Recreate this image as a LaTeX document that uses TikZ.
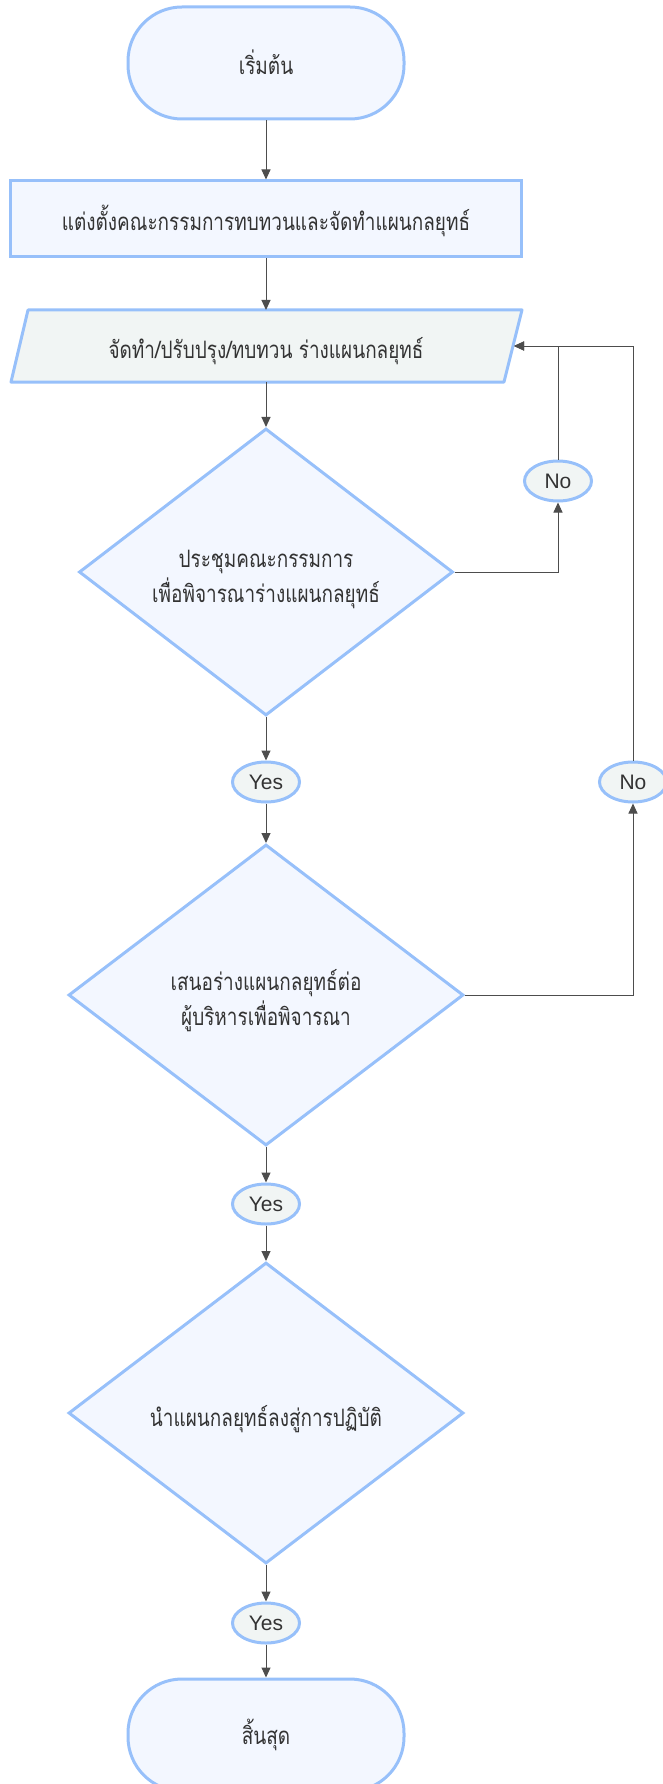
\documentclass[tikz,border=0pt]{standalone}
\usepackage{fontspec}
\setmainfont{Liberation Sans}
\newfontfamily\thaifont[Script=Thai,FakeStretch=0.79]{Loma}
\usetikzlibrary{shapes.geometric,arrows.meta}
\definecolor{bordc}{HTML}{97C0FA}
\definecolor{fillb}{HTML}{F3F7FF}
\definecolor{fillg}{HTML}{F1F5F4}
\definecolor{linec}{HTML}{4D4D4D}
\definecolor{txtc}{HTML}{333333}
\newcommand{\lowtext}[2][5pt]{\raisebox{-#1}[\height][\depth]{\begin{tabular}{@{}c@{}}#2\end{tabular}}}
\tikzset{
  base/.style={draw=bordc, line width=3pt, text=txtc, inner sep=0pt, align=center},
  thaitext/.style={font=\thaifont\fontsize{24}{35}\selectfont},
  term/.style={base, fill=fillb, rectangle, rounded corners=54pt, minimum width=276pt, minimum height=112pt, thaitext},
  procbox/.style={base, fill=fillb, rectangle, minimum width=511pt, minimum height=76pt, thaitext},
  iobox/.style={draw=bordc, line width=3pt, fill=fillg, line join=round},
  iotext/.style={text=txtc, inner sep=0pt, thaitext},
  decide/.style={base, fill=fillb, diamond, aspect=1.3, thaitext},
  lbl/.style={base, fill=fillg, ellipse, minimum width=67pt, minimum height=40pt, font=\fontsize{21}{22}\selectfont},
  conn/.style={draw=linec, line width=1pt, -{Triangle[length=10pt,width=9pt]}, fill=none},
}
\begin{document}
\begin{tikzpicture}[x=1pt,y=-1pt]
\useasboundingbox (0,0) rectangle (662,1784);
\node[term] (start) at (266,63) {\lowtext[4pt]{เริ่มต้น}};
\node[procbox] (appoint) at (266,219) {\lowtext[4pt]{แต่งตั้งคณะกรรมการทบทวนและจัดทำแผนกลยุทธ์}};
\draw[iobox] (28,310) -- (522,310) -- (504,382) -- (11,382) -- cycle;
\node[iotext] (draft) at (266,346) {\lowtext[5pt]{จัดทำ/ปรับปรุง/ทบทวน ร่างแผนกลยุทธ์}};
\coordinate (draftR) at (514,346);
\coordinate (draftT) at (266,310);
\coordinate (draftB) at (266,382);
\node[decide, minimum width=374pt, minimum height=287pt] (meet) at (266,572) {\lowtext[6pt]{ประชุมคณะกรรมการ\\เพื่อพิจารณาร่างแผนกลยุทธ์}};
\node[lbl] (no1) at (558,481) {No};
\node[lbl] (yes1) at (266,782) {Yes};
\node[lbl] (no2) at (633,782) {No};
\node[decide, minimum width=395pt, minimum height=301pt] (propose) at (266,995) {\lowtext[6pt]{เสนอร่างแผนกลยุทธ์ต่อ\\ผู้บริหารเพื่อพิจารณา}};
\node[lbl] (yes2) at (266,1204) {Yes};
\node[decide, minimum width=395pt, minimum height=301pt] (implement) at (266,1413) {\lowtext[6pt]{นำแผนกลยุทธ์ลงสู่การปฏิบัติ}};
\node[lbl] (yes3) at (266,1623) {Yes};
\node[term] (finish) at (266,1735) {สิ้นสุด};

\draw[conn] (start) -- (appoint);
\draw[conn] (appoint) -- (draftT);
\draw[conn] (draftB) -- (meet);
\draw[conn] (meet.east) -| (no1.south);
\draw[conn] (no1.north) |- (draftR);
\draw[conn] (meet.south) -- (yes1.north);
\draw[conn] (yes1.south) -- (propose.north);
\draw[conn] (propose.east) -| (no2.south);
\draw[conn] (no2.north) |- (draftR);
\draw[conn] (propose.south) -- (yes2.north);
\draw[conn] (yes2.south) -- (implement.north);
\draw[conn] (implement.south) -- (yes3.north);
\draw[conn] (yes3.south) -- (finish.north);
\end{tikzpicture}
\end{document}
